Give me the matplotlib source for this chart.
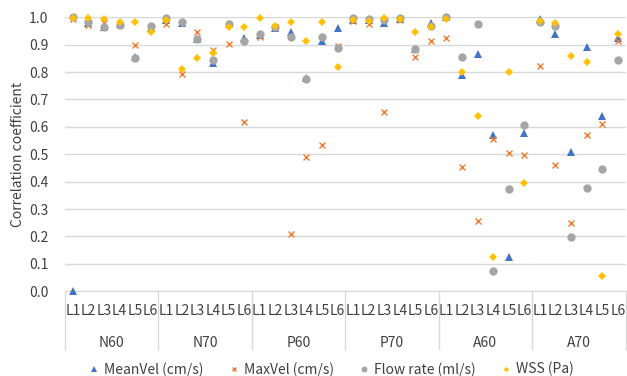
import numpy as np
import matplotlib
matplotlib.use("Agg")
import matplotlib.pyplot as plt
from matplotlib.transforms import blended_transform_factory

plt.rcParams['font.family'] = ['Noto Sans CJK KR', 'DejaVu Sans']

groups = ["N60", "N70", "P60", "P70", "A60", "A70"]
locs = ["L1", "L2", "L3", "L4", "L5", "L6"]

# correlation coefficients, group by group (L1..L6)
mean_vel = [0.0, 0.98, 0.965, 0.975, 0.855, 0.96,
            0.99, 0.98, 0.92, 0.835, 0.975, 0.926,
            0.935, 0.96, 0.946, 0.78, 0.913, 0.962,
            0.99, 0.99, 0.98, 0.995, 0.885, 0.98,
            1.0, 0.791, 0.866, 0.570, 0.124, 0.577,
            0.994, 0.940, 0.510, 0.893, 0.641, 0.926]
max_vel = [0.993, 0.972, 0.978, 0.972, 0.898, 0.96,
           0.975, 0.793, 0.947, 0.880, 0.903, 0.619,
           0.929, 0.965, 0.21, 0.49, 0.535, 0.896,
           0.988, 0.975, 0.655, 0.99, 0.856, 0.913,
           0.926, 0.455, 0.255, 0.555, 0.505, 0.497,
           0.822, 0.461, 0.250, 0.572, 0.611, 0.915]
flow_rate = [1.0, 0.982, 0.963, 0.972, 0.850, 0.968,
             0.996, 0.982, 0.921, 0.844, 0.974, 0.913,
             0.939, 0.965, 0.929, 0.775, 0.929, 0.889,
             0.996, 0.993, 0.99, 0.998, 0.883, 0.97,
             1.0, 0.856, 0.974, 0.073, 0.373, 0.606,
             0.984, 0.968, 0.198, 0.376, 0.445, 0.844]
wss = [0.998, 0.996, 0.993, 0.983, 0.983, 0.947,
       0.990, 0.811, 0.853, 0.871, 0.966, 0.963,
       0.999, 0.968, 0.983, 0.913, 0.982, 0.820,
       0.99, 0.985, 0.996, 0.993, 0.946, 0.963,
       0.993, 0.802, 0.639, 0.125, 0.802, 0.396,
       0.985, 0.978, 0.859, 0.837, 0.057, 0.938]

series = [
    ("MeanVel (cm/s)", mean_vel, "^", "#4472C4", 6.0),
    ("MaxVel (cm/s)", max_vel, "x", "#ED7D31", 5.0),
    ("Flow rate (ml/s)", flow_rate, "o", "#A5A5A5", 6.0),
    ("WSS (Pa)", wss, "D", "#FFC000", 3.8),
]

fig = plt.figure(figsize=(6.27, 3.76), dpi=100)
ax = fig.add_axes([0.1037, 0.2253, 0.894, 0.7287])

x = np.arange(len(groups) * len(locs))
handles = []
for name, vals, mk, col, ms in series:
    kw = dict(markeredgewidth=1.0) if mk == "x" else dict(markeredgewidth=0)
    h, = ax.plot(x, vals, ls="none", marker=mk, color=col, ms=ms,
                 clip_on=False, label=name, zorder=3, **kw)
    handles.append(h)

ax.set_xlim(-0.5, len(x) - 0.5)
ax.set_ylim(0, 1.0)
ax.set_yticks(np.arange(0, 1.01, 0.1))
ax.set_yticklabels([f"{v:.1f}" for v in np.arange(0, 1.01, 0.1)], fontsize=10)
ax.yaxis.grid(True, color="#d9d9d9", lw=1.0)
ax.set_axisbelow(True)
for s in ["top", "right", "left"]:
    ax.spines[s].set_visible(False)
ax.spines["bottom"].set_color("#d9d9d9")
ax.tick_params(axis="y", length=0, pad=12, colors="#404040")
ax.tick_params(axis="x", length=0, pad=9, colors="#404040")
ax.set_xticks(x)
ax.set_xticklabels(locs * len(groups), fontsize=10)
ax.set_ylabel("Correlation coefficient", fontsize=10, color="#404040", labelpad=3)

# group labels and separators below the axis
tr = blended_transform_factory(ax.transData, ax.transAxes)
for gi, g in enumerate(groups):
    ax.text(gi * 6 + 2.5, -0.19, g, transform=tr, ha="center", va="center",
            fontsize=10, color="#404040")
for b in range(len(groups) + 1):
    ax.plot([b * 6 - 0.5] * 2, [0, -0.21], transform=tr, color="#d9d9d9",
            lw=1.0, clip_on=False)

fig.legend(handles=handles, loc="lower center", ncol=4, frameon=False,
           bbox_to_anchor=(0.526, -0.035), fontsize=10, handletextpad=0.1,
           columnspacing=1.6, handlelength=1.2, markerscale=0.7,
           labelcolor="#404040")

fig.savefig("out.png", dpi=100)
